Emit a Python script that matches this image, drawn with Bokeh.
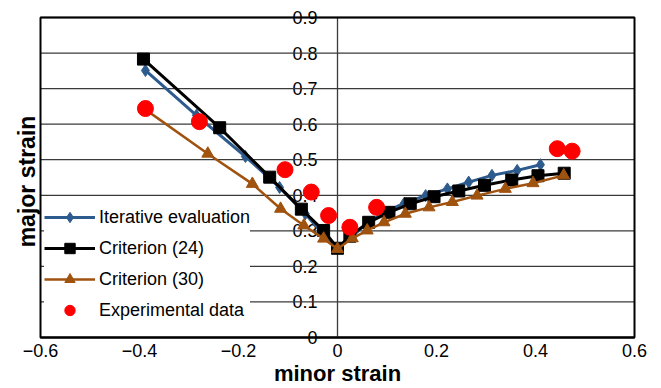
import math
from bokeh.plotting import figure
from bokeh.models import FixedTicker, Legend, LegendItem, Range1d, Label, LinearAxis
from bokeh.embed import file_html
from bokeh.resources import INLINE

# ---- data ----
iter_x = [-0.388, -0.285, -0.186, -0.117, -0.065, -0.030, 0.0, 0.030, 0.060, 0.095, 0.135, 0.178, 0.222, 0.265, 0.312, 0.363, 0.410]
iter_y = [0.751, 0.625, 0.509, 0.422, 0.348, 0.292, 0.250, 0.285, 0.322, 0.352, 0.378, 0.399, 0.418, 0.437, 0.456, 0.470, 0.486]

crit24_x = [-0.392, -0.238, -0.137, -0.073, -0.028, 0.0, 0.025, 0.063, 0.104, 0.147, 0.195, 0.245, 0.297, 0.352, 0.405, 0.458]
crit24_y = [0.783, 0.590, 0.451, 0.361, 0.301, 0.251, 0.285, 0.324, 0.352, 0.376, 0.396, 0.412, 0.428, 0.443, 0.455, 0.462]

crit30_x = [-0.390, -0.262, -0.172, -0.115, -0.068, -0.028, 0.0, 0.030, 0.060, 0.094, 0.137, 0.185, 0.232, 0.282, 0.339, 0.395, 0.457]
crit30_y = [0.643, 0.517, 0.432, 0.362, 0.315, 0.278, 0.249, 0.279, 0.301, 0.324, 0.348, 0.366, 0.381, 0.399, 0.418, 0.434, 0.456]

exp_x = [-0.388, -0.279, -0.106, -0.053, -0.018, 0.025, 0.079, 0.444, 0.474]
exp_y = [0.644, 0.607, 0.472, 0.409, 0.343, 0.310, 0.366, 0.531, 0.524]

x_ticks = [-0.6, -0.4, -0.2, 0.0, 0.2, 0.4, 0.6]
y_ticks = [0.0, 0.1, 0.2, 0.3, 0.4, 0.5, 0.6, 0.7, 0.8, 0.9]

# ---- layout (pixels) ----
FONT = "Liberation Sans"
W, H = 661, 387                      # whole canvas is the plotting frame
BOX_L, BOX_R, BOX_T, BOX_B = 40, 634, 17, 337   # chart box inside the canvas
X_MIN, X_MAX, Y_MIN, Y_MAX = -0.6, 0.6, 0.0, 0.9

xpp = (X_MAX - X_MIN) / (BOX_R - BOX_L)
ypp = (Y_MAX - Y_MIN) / (BOX_B - BOX_T)
x_range = Range1d(X_MIN - BOX_L * xpp, X_MAX + (W - BOX_R) * xpp)
y_range = Range1d(Y_MIN - (H - BOX_B) * ypp, Y_MAX + BOX_T * ypp)

p = figure(frame_width=W, frame_height=H, min_border=0,
           min_border_left=0, min_border_right=0, min_border_top=0, min_border_bottom=0,
           x_range=x_range, y_range=y_range, x_axis_type=None, y_axis_type=None,
           output_backend="svg", toolbar_location=None)
p.outline_line_color = None
p.background_fill_color = "white"
p.border_fill_color = "white"

GRID = "#3a3a3a"
# horizontal grid lines inside the box
n = len(y_ticks)
p.segment(x0=[X_MIN] * n, y0=y_ticks, x1=[X_MAX] * n, y1=y_ticks,
          line_color=GRID, line_width=1.3)
# chart box
p.quad(left=[X_MIN], right=[X_MAX], bottom=[Y_MIN], top=[Y_MAX],
       fill_alpha=0, line_color="black", line_width=2)

# y axis drawn at x = 0
ya = LinearAxis(fixed_location=0, bounds=(Y_MIN, Y_MAX), ticker=FixedTicker(ticks=y_ticks))
ya.major_label_overrides = {0: "0"}
ya.axis_line_color = GRID
ya.axis_line_width = 1.3
ya.major_tick_line_color = None
ya.minor_tick_line_color = None
ya.major_tick_out = 0
ya.major_tick_in = 0
ya.major_label_standoff = 20
ya.major_label_text_font = FONT
ya.major_label_text_font_size = "18px"
ya.major_label_text_color = "black"
ya.level = "underlay"
p.add_layout(ya, "left")

# x axis along y = 0
xa = LinearAxis(fixed_location=0, bounds=(X_MIN, X_MAX), ticker=FixedTicker(ticks=x_ticks))
xa.major_label_overrides = {0: "0"}
xa.axis_line_color = "black"
xa.axis_line_width = 2
xa.major_tick_line_color = None
xa.minor_tick_line_color = None
xa.major_tick_out = 0
xa.major_tick_in = 0
xa.major_label_standoff = 6
xa.major_label_text_font = FONT
xa.major_label_text_font_size = "18px"
xa.major_label_text_color = "black"
xa.level = "underlay"
p.add_layout(xa, "below")

# axis titles
p.add_layout(Label(x=0, y=Y_MIN, y_offset=-36, text="minor strain", text_align="center",
                   text_baseline="middle", text_font=FONT, text_font_size="22px",
                   text_font_style="bold", text_color="black"))
p.add_layout(Label(x=X_MIN, y=(Y_MIN + Y_MAX) / 2, x_offset=-14, y_offset=-4, angle=math.pi / 2,
                   text="major strain", text_align="center", text_baseline="middle",
                   text_font=FONT, text_font_size="23px", text_font_style="bold",
                   text_color="black"))

BLUE = "#2d5b8d"
BROWN = "#a0520f"
RED = "#ff0000"

bl = p.line(iter_x, iter_y, line_color=BLUE, line_width=3)
bs = p.scatter(iter_x, iter_y, marker="diamond", size=12, fill_color=BLUE, line_color=BLUE)

kl = p.line(crit24_x, crit24_y, line_color="black", line_width=3)
ks = p.scatter(crit24_x, crit24_y, marker="square", size=12, fill_color="black", line_color="black")

rl = p.line(crit30_x, crit30_y, line_color=BROWN, line_width=2.5)
rs = p.scatter(crit30_x, crit30_y, marker="triangle", size=12, fill_color=BROWN, line_color=BROWN)

es = p.scatter(exp_x, exp_y, marker="circle", size=16, fill_color=RED, line_color=RED)

legend = Legend(items=[
    LegendItem(label="Iterative evaluation", renderers=[bl, bs]),
    LegendItem(label="Criterion (24)", renderers=[kl, ks]),
    LegendItem(label="Criterion (30)", renderers=[rl, rs]),
    LegendItem(label="Experimental data", renderers=[es]),
], location=(44, 64), margin=0, padding=10, spacing=5,
    glyph_width=51, glyph_height=26, label_height=26, label_standoff=4,
    label_text_font=FONT, label_text_font_size="18px", label_text_color="black",
    background_fill_color="white", background_fill_alpha=1.0,
    border_line_color=None)
p.add_layout(legend)

open("out.html", "w").write(file_html(p, INLINE))
